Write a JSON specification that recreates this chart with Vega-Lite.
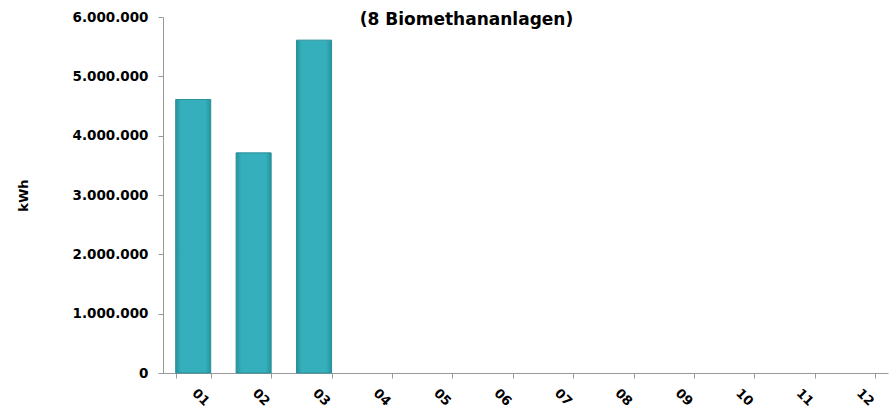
{
  "$schema": "https://vega.github.io/schema/vega-lite/v6.json",
  "autosize": "none",
  "width": 725,
  "height": 356,
  "padding": {"left": 163, "top": 17, "right": 8, "bottom": 38},
  "background": "white",
  "title": {
    "text": "(8 Biomethananlagen)",
    "font": "DejaVu Sans",
    "fontSize": 17,
    "fontWeight": "bold",
    "color": "#000000",
    "anchor": "middle",
    "baseline": "top",
    "offset": -19,
    "dx": -59
  },
  "data": {
    "values": [
      {"monat": "01", "kwh": 4610000},
      {"monat": "02", "kwh": 3710000},
      {"monat": "03", "kwh": 5610000},
      {"monat": "04", "kwh": null},
      {"monat": "05", "kwh": null},
      {"monat": "06", "kwh": null},
      {"monat": "07", "kwh": null},
      {"monat": "08", "kwh": null},
      {"monat": "09", "kwh": null},
      {"monat": "10", "kwh": null},
      {"monat": "11", "kwh": null},
      {"monat": "12", "kwh": null}
    ]
  },
  "mark": {
    "type": "bar",
    "stroke": "#2a8f99",
    "strokeWidth": 1,
    "fill": {
      "gradient": "linear",
      "x1": 0, "y1": 0, "x2": 1, "y2": 0,
      "stops": [
        {"offset": 0, "color": "#27929d"},
        {"offset": 0.15, "color": "#34afbb"},
        {"offset": 0.85, "color": "#34afbb"},
        {"offset": 1, "color": "#27929d"}
      ]
    }
  },
  "encoding": {
    "x": {
      "field": "monat",
      "type": "ordinal",
      "scale": {
        "domain": ["01", "02", "03", "04", "05", "06", "07", "08", "09", "10", "11", "12"],
        "paddingInner": 0.42,
        "paddingOuter": 0.21
      },
      "axis": {
        "title": null,
        "tickBand": "extent",
        "labelAngle": 45,
        "labelAlign": "center",
        "labelBaseline": "middle",
        "labelPadding": 19,
        "labelOffset": 7,
        "labelFont": "DejaVu Sans",
        "labelFontSize": 13,
        "labelFontWeight": "bold",
        "labelColor": "#000000",
        "domainColor": "#999999",
        "tickColor": "#999999",
        "tickSize": 5
      }
    },
    "y": {
      "field": "kwh",
      "type": "quantitative",
      "scale": {"domain": [0, 6000000], "nice": false},
      "axis": {
        "title": "kWh",
        "titleFont": "DejaVu Sans",
        "titleFontSize": 13,
        "titleFontWeight": "bold",
        "titleColor": "#000000",
        "titlePadding": 41,
        "values": [0, 1000000, 2000000, 3000000, 4000000, 5000000, 6000000],
        "labelExpr": "replace(format(datum.value, ','), /,/g, '.')",
        "labelFont": "DejaVu Sans",
        "labelFontSize": 13.5,
        "labelFontWeight": "bold",
        "labelColor": "#000000",
        "labelPadding": 10,
        "grid": false,
        "domainColor": "#999999",
        "tickColor": "#999999",
        "tickSize": 5
      }
    }
  },
  "config": {"view": {"stroke": null}}
}
